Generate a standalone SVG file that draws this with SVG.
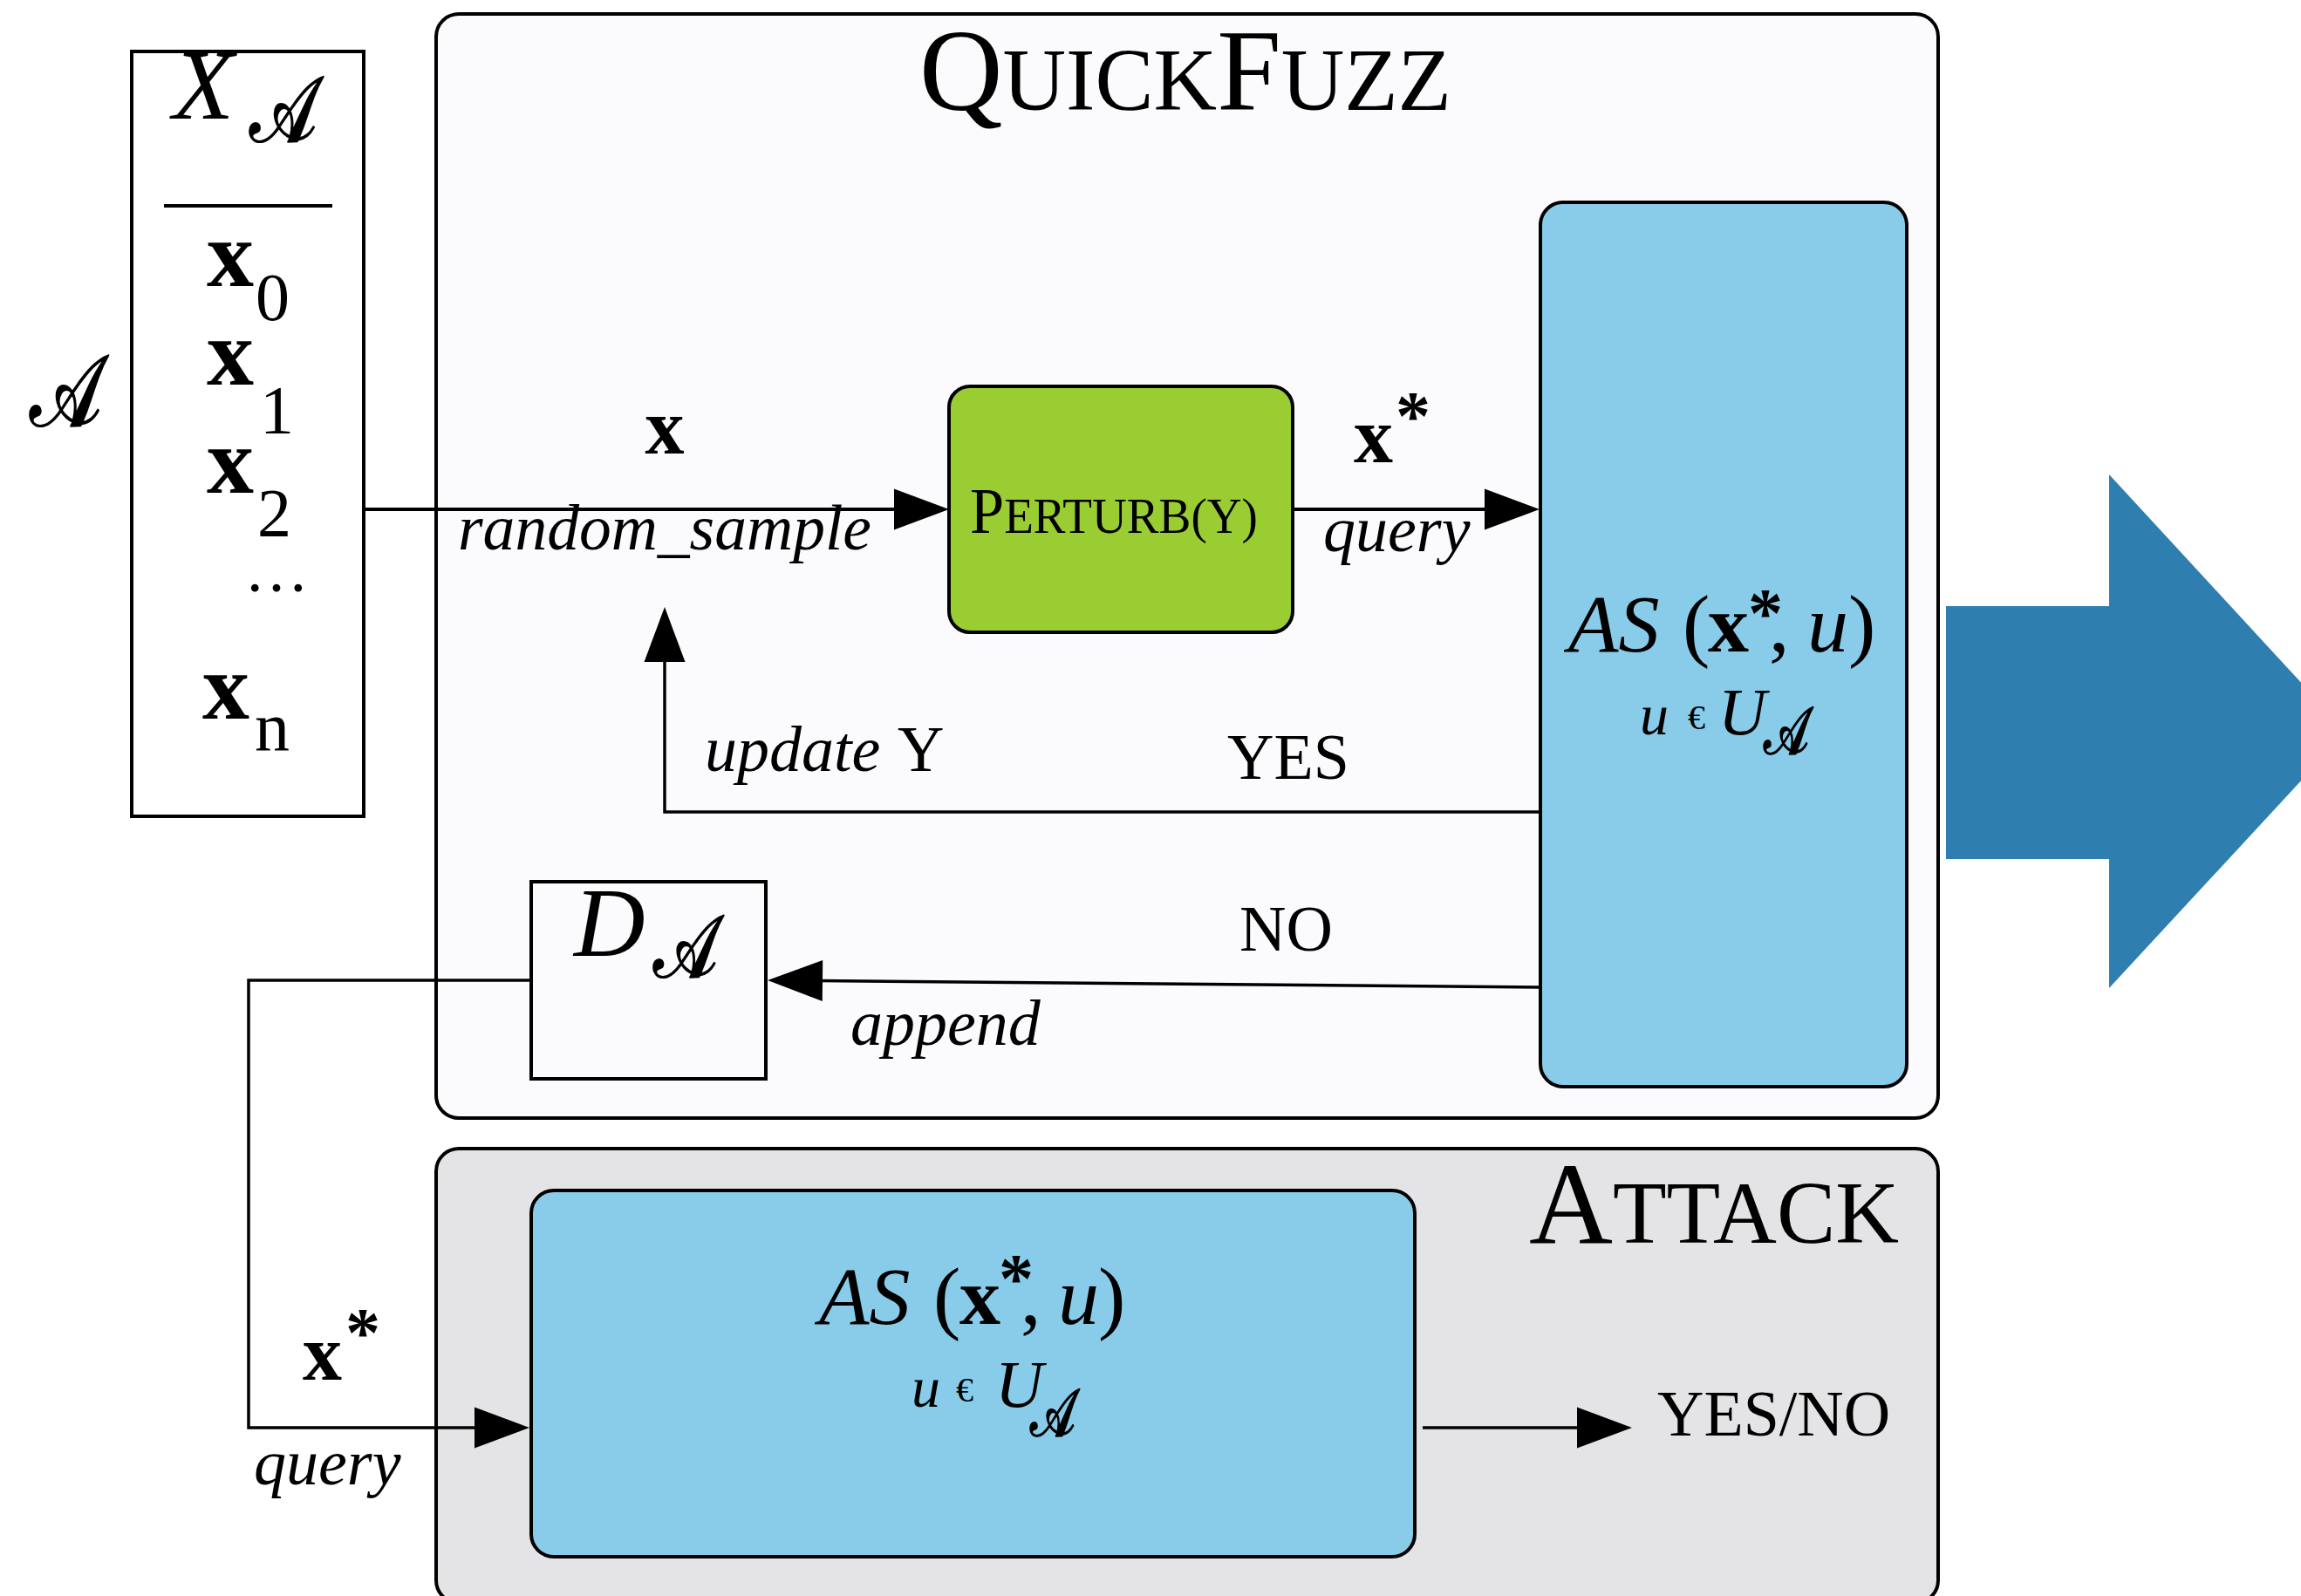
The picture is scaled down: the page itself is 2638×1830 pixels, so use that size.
<svg xmlns="http://www.w3.org/2000/svg" width="2638" height="1830" viewBox="0 0 2638 1830">
  <defs>
    <style>
      text { font-family: "Liberation Serif", "Times New Roman", serif; fill: #000; }
      .it { font-style: italic; }
      .bf { font-weight: bold; }
      .cal { font-family: "DejaVu Serif", "DejaVu Sans", serif; font-style: normal; stroke: #000; stroke-width: 2.2; stroke-linejoin: round; }
      .lbl { font-size: 74px; }
      .frame { stroke: #000; stroke-width: 4; }
      .wire { fill: none; stroke: #000; stroke-width: 3.5; }
      .wire-main { fill: none; stroke: #000; stroke-width: 4; }
      .as { fill: #88ccea; stroke: #000; stroke-width: 4; }
    </style>
    <marker id="head" markerUnits="userSpaceOnUse" markerWidth="64" markerHeight="48" refX="56" refY="23.5" orient="auto" overflow="visible">
      <path d="M0,0 L63,23.5 L0,47 Z" fill="#000"/>
    </marker>
  </defs>

  <rect width="2638" height="1830" fill="#ffffff"/>

  <!-- containers -->
  <g id="quickfuzz">
    <rect x="500" y="16" width="1722" height="1266" rx="26" fill="#fbfbfd" class="frame"/>
    <text x="1054" y="126" textLength="610" lengthAdjust="spacingAndGlyphs"><tspan font-size="133">Q</tspan><tspan font-size="101">UICK</tspan><tspan font-size="133">F</tspan><tspan font-size="101">UZZ</tspan></text>
  </g>
  <g id="attack">
    <rect x="500" y="1317" width="1722" height="521" rx="26" fill="#e4e4e6" class="frame"/>
    <text x="1753" y="1425" textLength="424" lengthAdjust="spacingAndGlyphs"><tspan font-size="133">A</tspan><tspan font-size="101">TTACK</tspan></text>
  </g>

  <!-- connectors -->
  <g id="connectors">
    <line x1="417" y1="584" x2="1081" y2="584" class="wire-main" marker-end="url(#head)"/>
    <line x1="1482" y1="584" x2="1758" y2="584" class="wire-main" marker-end="url(#head)"/>
    <polyline points="1766,931 762,931 762,703" class="wire" marker-end="url(#head)"/>
    <line x1="1766" y1="1132" x2="887" y2="1124" class="wire" marker-end="url(#head)"/>
    <polyline points="609,1124 285,1124 285,1637 600,1637" class="wire" marker-end="url(#head)"/>
    <line x1="1631" y1="1637" x2="1864" y2="1637" class="wire" marker-end="url(#head)"/>
  </g>

  <!-- input set -->
  <g id="input-set">
    <text transform="translate(34,488) scale(0.76,1)" class="cal" font-size="115">𝒜</text>
    <rect x="151" y="59" width="266" height="877" fill="#ffffff" class="frame"/>
    <text x="198" y="136" class="it" font-size="115">X</text>
    <text transform="translate(286,162) scale(0.78,1)" class="cal" font-size="105">𝒜</text>
    <line x1="188" y1="236" x2="381" y2="236" stroke="#000" stroke-width="4"/>
    <text x="237" y="328" class="bf" font-size="108">x</text>
    <text x="293" y="367" font-size="78">0</text>
    <text x="237" y="441" class="bf" font-size="108">x</text>
    <text x="298" y="496" font-size="78">1</text>
    <text x="237" y="565" class="bf" font-size="108">x</text>
    <text x="295" y="614" font-size="78">2</text>
    <text x="280" y="678" font-size="74">…</text>
    <text x="232" y="824" class="bf" font-size="108">x</text>
    <text x="292" y="860" font-size="80">n</text>
  </g>

  <!-- perturbation step -->
  <g id="perturb">
    <rect x="1088" y="443" width="394" height="282" rx="24" fill="#9acd32" class="frame"/>
    <text x="1112" y="611" textLength="330" lengthAdjust="spacingAndGlyphs"><tspan font-size="74">P</tspan><tspan font-size="58">ERTURB(Y)</tspan></text>
  </g>

  <!-- adversarial check inside the fuzzing loop -->
  <g id="as-check">
    <rect x="1766" y="232" width="420" height="1014" rx="26" class="as"/>
    <text y="747" font-size="94"><tspan x="1798" class="it">AS</tspan><tspan x="1929">(</tspan><tspan x="1958" class="bf">x</tspan><tspan x="2004" y="730" class="bf" font-size="80">*</tspan><tspan x="2028" y="747">,</tspan><tspan x="2072" class="it">u</tspan><tspan x="2119">)</tspan></text>
    <text y="842"><tspan x="1880" class="it" font-size="66">u</tspan><tspan x="1935" y="836" font-size="40">€</tspan><tspan x="1970" y="842" class="it" font-size="76">U</tspan></text>
    <text transform="translate(2022,864) scale(0.72,1)" class="cal" font-size="76">𝒜</text>
  </g>

  <!-- collected adversarial inputs -->
  <g id="d-set">
    <rect x="609" y="1011" width="269" height="226" fill="#fbfbfd" class="frame"/>
    <text x="658" y="1096" class="it" font-size="113">D</text>
    <text transform="translate(749,1120) scale(0.78,1)" class="cal" font-size="100">𝒜</text>
  </g>

  <!-- adversarial check in the attack phase -->
  <g id="as-attack">
    <rect x="609" y="1365" width="1013" height="420" rx="26" class="as"/>
    <text y="1518" font-size="94"><tspan x="939" class="it">AS</tspan><tspan x="1070">(</tspan><tspan x="1100" class="bf">x</tspan><tspan x="1145" y="1493" class="bf" font-size="80">*</tspan><tspan x="1170" y="1518">,</tspan><tspan x="1213" class="it">u</tspan><tspan x="1259">)</tspan></text>
    <text y="1613"><tspan x="1045" class="it" font-size="66">u</tspan><tspan x="1096" y="1607" font-size="40">€</tspan><tspan x="1141" y="1613" class="it" font-size="76">U</tspan></text>
    <text transform="translate(1181,1646) scale(0.72,1)" class="cal" font-size="76">𝒜</text>
  </g>

  <!-- output arrow -->
  <g id="big-arrow">
    <polygon points="2231,695 2418,695 2418,544 2690,839 2418,1133 2418,985 2231,985" fill="#2e7faf"/>
  </g>

  <!-- connector labels -->
  <g id="labels" class="lbl">
    <text x="762" y="520" text-anchor="middle" class="bf" font-size="90">x</text>
    <text x="525" y="630" class="it" textLength="474" lengthAdjust="spacingAndGlyphs">random_sample</text>
    <text x="1552" y="530" class="bf" font-size="90">x</text>
    <text x="1600" y="504" class="bf" font-size="80">*</text>
    <text x="1517" y="632" class="it">query</text>
    <text x="808" y="884" class="it">update</text>
    <text x="1029" y="884">Y</text>
    <text x="1407" y="893">YES</text>
    <text x="1421" y="1090">NO</text>
    <text x="975" y="1198" class="it">append</text>
    <text x="347" y="1582" class="bf" font-size="90">x</text>
    <text x="396" y="1555" class="bf" font-size="80">*</text>
    <text x="291" y="1702" class="it">query</text>
    <text x="1900" y="1646">YES/NO</text>
  </g>
</svg>
